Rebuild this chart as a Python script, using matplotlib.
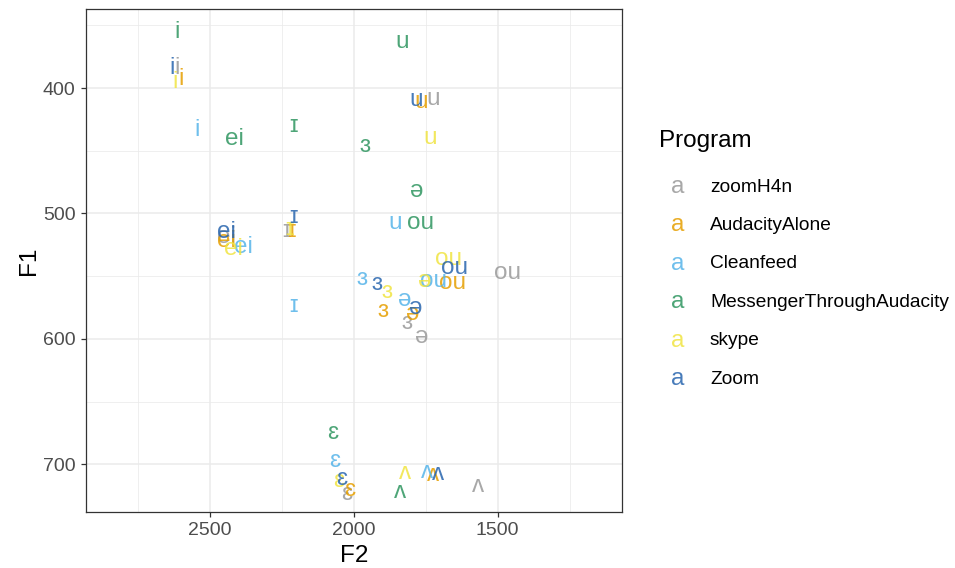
import matplotlib
matplotlib.use("Agg")
import matplotlib.pyplot as plt
from matplotlib.ticker import FixedLocator

FONT = ["Liberation Sans", "DejaVu Sans"]
plt.rcParams["font.family"] = FONT

programs = ["zoomH4n", "AudacityAlone", "Cleanfeed", "MessengerThroughAudacity", "skype", "Zoom"]
colors = ["#999999", "#E69F00", "#56B4E9", "#2F9660", "#F0E442", "#2865AE"]

# vowel labels, F2, F1 per program
zoomH4n_vowel = ["ei", "i", "u", "ɪ", "ou", "ɜ", "ə", "ɛ", "ʌ"]
zoomH4n_F2 = [2443, 2614, 1723, 2232, 1467, 1816, 1764, 2024, 1569]
zoomH4n_F1 = [518.5, 383.9, 408.6, 514.3, 547.2, 587.7, 598.8, 723.8, 717.2]

audacity_vowel = ["i", "u", "ei", "ɪ", "ou", "ɜ", "ə", "ɛ", "ʌ"]
audacity_F2 = [2600, 1766, 2443, 2215, 1655, 1899, 1794, 2012, 1725]
audacity_F1 = [392.7, 411.3, 521.7, 513.7, 555.2, 577.5, 579.9, 720.4, 708.6]

cleanfeed_vowel = ["i", "ei", "ɪ", "u", "ɜ", "ou", "ə", "ɛ", "ʌ"]
cleanfeed_F2 = [2543, 2383, 2207, 1856, 1972, 1724, 1822, 2065, 1744]
cleanfeed_F1 = [433.4, 527.0, 573.5, 507.3, 552.2, 553.6, 568.8, 697.2, 706.5]

messenger_vowel = ["i", "u", "ɪ", "ei", "ɜ", "ə", "ou", "ɛ", "ʌ"]
messenger_F2 = [2614, 1831, 2210, 2412, 1960, 1781, 1769, 2074, 1839]
messenger_F1 = [355.5, 363.5, 429.9, 440.5, 445.9, 482.3, 507.3, 675.4, 721.7]

skype_vowel = ["i", "u", "ei", "ɪ", "ɜ", "ə", "ou", "ɛ", "ʌ"]
skype_F2 = [2619, 1735, 2418, 2221, 1885, 1752, 1672, 2050, 1822]
skype_F1 = [395.4, 439.7, 528.3, 512.0, 562.9, 553.6, 536.0, 713.2, 707.3]

zoom_vowel = ["i", "u", "ei", "ɪ", "ou", "ɜ", "ə", "ɛ", "ʌ"]
zoom_F2 = [2631, 1784, 2441, 2207, 1648, 1918, 1783, 2041, 1706]
zoom_F1 = [383.9, 409.4, 515.1, 503.1, 543.2, 556.2, 575.1, 711.8, 707.8]

series = [
    (zoomH4n_vowel, zoomH4n_F2, zoomH4n_F1),
    (audacity_vowel, audacity_F2, audacity_F1),
    (cleanfeed_vowel, cleanfeed_F2, cleanfeed_F1),
    (messenger_vowel, messenger_F2, messenger_F1),
    (skype_vowel, skype_F2, skype_F1),
    (zoom_vowel, zoom_F2, zoom_F1),
]

x_ticks = [2500, 2000, 1500]
x_minor = [2750, 2250, 1750, 1250]
y_ticks = [400, 500, 600, 700]
y_minor = [350, 450, 550, 650]

W, H = 955, 568
fig = plt.figure(figsize=(W / 100, H / 100), dpi=100)
L, R, T, B = 86, 622, 9, 512
ax = fig.add_axes([L / W, 1 - B / H, (R - L) / W, (B - T) / H])

ax.set_xlim(2929, 1068)
ax.set_ylim(738, 337)

grid_c = "#EBEBEB"
ax.xaxis.set_major_locator(FixedLocator(x_ticks))
ax.xaxis.set_minor_locator(FixedLocator(x_minor))
ax.yaxis.set_major_locator(FixedLocator(y_ticks))
ax.yaxis.set_minor_locator(FixedLocator(y_minor))
ax.grid(True, which="major", color=grid_c, lw=1.1, zorder=0)
ax.grid(True, which="minor", color=grid_c, lw=0.55, zorder=0)
ax.set_axisbelow(True)
ax.tick_params(which="minor", length=0)
ax.tick_params(which="major", length=3.5, width=0.9, color="#333333",
               labelsize=14, labelcolor="#4D4D4D", pad=4)
for s in ax.spines.values():
    s.set_color("#333333")
    s.set_linewidth(0.9)

text_size = 17.5
for (vow, f2, f1), c in zip(series, colors):
    for v, x, y in zip(vow, f2, f1):
        ax.text(x, y, v, color=c, alpha=0.85, fontsize=text_size,
                ha="center", va="center", family=FONT, zorder=3)

ax.set_xlabel("F2", fontsize=17.5, color="black", labelpad=4)
ax.set_ylabel("F1", fontsize=17.5, color="black", labelpad=2)

# legend
fig.text(659 / W, 1 - 141 / H, "Program", fontsize=17.5, ha="left", va="center")
for i, (p, c) in enumerate(zip(programs, colors)):
    yy = 1 - (187 + i * 38.4) / H
    fig.text(678 / W, yy, "a", color=c, alpha=0.85, fontsize=text_size,
             ha="center", va="center")
    fig.text(710 / W, yy, p, fontsize=13.8, ha="left", va="center")

fig.savefig("out.png", dpi=100)
